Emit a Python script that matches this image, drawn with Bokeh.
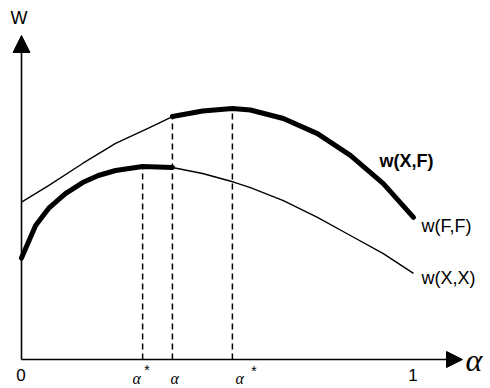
from bokeh.plotting import figure
from bokeh.models import Range1d, Arrow, NormalHead
from bokeh.core.properties import value
from bokeh.embed import file_html
from bokeh.resources import INLINE

# ---- data ----
alpha_F = [0.000, 0.069, 0.156, 0.240, 0.324, 0.385, 0.462, 0.538, 0.584, 0.668, 0.755, 0.839, 0.923, 1.000]
w_FF    = [0.627, 0.693, 0.781, 0.861, 0.922, 0.968, 0.990, 1.000, 0.994, 0.960, 0.900, 0.813, 0.701, 0.566]

alpha_X = [0.000, 0.036, 0.069, 0.112, 0.156, 0.196, 0.240, 0.309, 0.385, 0.462, 0.541, 0.584, 0.668, 0.755, 0.839, 0.923, 1.000]
w_XX    = [0.404, 0.534, 0.602, 0.661, 0.705, 0.733, 0.753, 0.769, 0.765, 0.741, 0.707, 0.685, 0.633, 0.566, 0.494, 0.422, 0.343]

alpha_marks = [0.309, 0.385, 0.538]          # alpha_X*, switch point, alpha_F*
mark_tops   = [0.769, 0.968, 1.000]
tick_labels = ["0", "1"]
curve_labels = ["w(X,F)", "w(F,F)", "w(X,X)"]

# ---- geometry helpers (picture pixels -> data) ----
X0, XS = 21.0, 392.0      # picture x of alpha=0, pixels per unit alpha
Y0, YS = 359.0, 251.0     # picture y of W=0, pixels per unit W
W_PX, H_PX = 490, 388
def ax(px): return (px - X0) / XS
def wy(py): return (Y0 - py) / YS

p = figure(width=W_PX, height=H_PX, output_backend="svg", toolbar_location=None,
           x_range=Range1d(ax(0), ax(W_PX)), y_range=Range1d(wy(H_PX), wy(0)),
           min_border=0, min_border_left=0, min_border_right=0, min_border_top=0, min_border_bottom=0)
p.axis.visible = False
p.grid.visible = False
p.outline_line_color = None
p.background_fill_color = "white"
p.border_fill_color = "white"

# axes with arrows
p.add_layout(Arrow(end=NormalHead(size=17, fill_color="black", line_color="black", line_width=1),
                   x_start=0, y_start=0, x_end=0, y_end=wy(35), line_width=1.6, line_color="black"))
p.add_layout(Arrow(end=NormalHead(size=16, fill_color="black", line_color="black", line_width=1),
                   x_start=0, y_start=0, x_end=ax(462), y_end=0, line_width=1.6, line_color="black"))

# dashed verticals
p.segment(x0=alpha_marks, y0=[0] * 3, x1=alpha_marks, y1=mark_tops,
          line_color="black", line_width=1.5, line_dash="6 4")

# curves: thin and thick parts
k = alpha_F.index(0.385)
p.line(alpha_F[:k + 1], w_FF[:k + 1], line_color="black", line_width=1.4, line_join="round")
p.line(alpha_F[k:], w_FF[k:], line_color="black", line_width=5, line_cap="round", line_join="round")
j = alpha_X.index(0.385)
p.line(alpha_X[:j + 1], w_XX[:j + 1], line_color="black", line_width=5, line_cap="round", line_join="round")
p.line(alpha_X[j:], w_XX[j:], line_color="black", line_width=1.4, line_join="round")

font = value("Liberation Sans")
# curve labels
p.text(x=[ax(379)], y=[wy(160)], text=[curve_labels[0]], text_font=font, text_font_size="18px",
       text_font_style="bold", text_baseline="middle", text_align="left", text_color="black")
p.text(x=[ax(421), ax(421)], y=[wy(225), wy(277)], text=curve_labels[1:], text_font=font,
       text_font_size="18px", text_baseline="middle", text_align="left", text_color="black")

# axis labels
p.text(x=[ax(18.5)], y=[wy(17)], text=["W"], text_font=font, text_font_size="18px",
       text_baseline="middle", text_align="center", text_color="black")
p.text(x=[ax(20.5), ax(412.5)], y=[wy(374), wy(374)], text=tick_labels, text_font=font,
       text_font_size="17px", text_baseline="middle", text_align="center", text_color="black")
p.text(x=[ax(465)], y=[wy(359)], text=["α"], text_font=value("Liberation Serif"),
       text_font_size="32px", text_font_style="italic", text_baseline="middle",
       text_align="left", text_color="black")

# bottom alpha labels at the dashed lines
p.text(x=[ax(132), ax(170), ax(235)], y=[wy(378)] * 3, text=["α", "α", "α"],
       text_font=value("Liberation Serif"), text_font_size="16px", text_font_style="italic",
       text_baseline="alphabetic", text_align="left", text_color="black")
p.text(x=[ax(146.5), ax(253.5)], y=[wy(369), wy(370)], text=["*", "*"], text_font=font,
       text_font_size="14px", text_baseline="middle", text_align="center", text_color="black")

open("out.html", "w").write(file_html(p, INLINE))
